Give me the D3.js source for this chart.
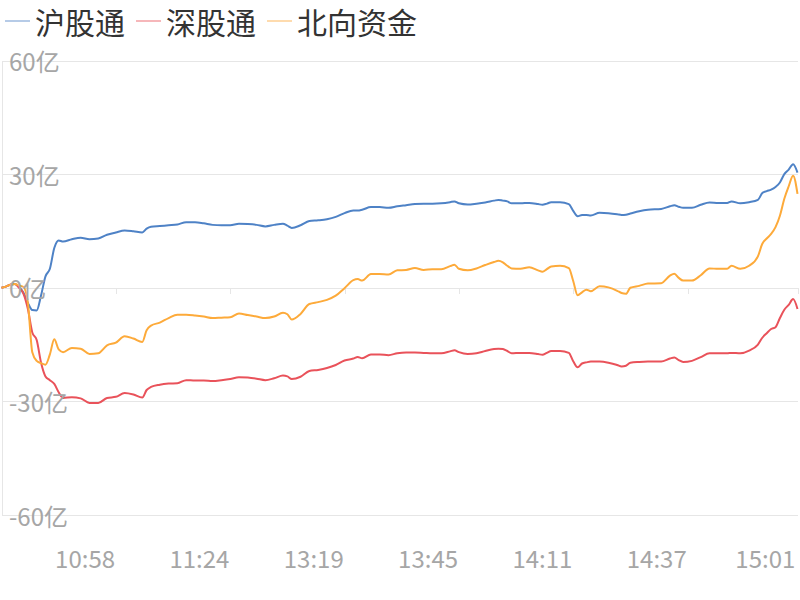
<!DOCTYPE html>
<html>
<head>
<meta charset="utf-8">
<script src="https://cdn.jsdelivr.net/npm/d3@7"></script>
<style>
  body { margin: 0; background: #fff; }
  svg { display: block; font-family: "Noto Sans CJK SC", "Noto Sans", sans-serif; }
</style>
</head>
<body>
<div id="chart"></div>
<script>
// minute index of each sample, 0 = start of the window
var minutes = [0,1,2,3,4,5,6,7,8,9,10,11,12,13,14,16,18,20,22,24,26,28,30,32,33,34,36,38,40,42,44,46,48,50,
  52,54,56,58,60,62,64,65,66,68,70,72,74,76,78,80,81,82,84,86,88,90,92,94,96,98,100,102,103,104,106,108,
  110,112,113,114,115,116,118,120,122,123,124,125,127,129,130,131,132,133,134,136,138,140,141,142,143,145,
  147,150,152,153,154,155,157,159,161,163,165,166,168,170,172,173,174,175,176,177,178,179,180,181];

var hu = [0,0.3,0.8,1.0,0.2,-1.3,-4.0,-5.9,-6.0,-2.0,3.0,5.0,10.5,12.5,12.2,12.8,13.2,12.8,13.0,14.0,14.6,15.1,14.9,14.6,15.6,16.1,16.3,16.5,16.7,17.3,17.3,17.0,16.6,16.5,
  16.5,16.9,16.8,16.6,16.2,16.6,16.9,16.4,15.8,16.5,17.6,17.8,18.1,18.7,19.7,20.4,20.4,20.6,21.3,21.3,21.1,21.5,21.8,22.1,22.2,22.2,22.3,22.6,22.8,22.3,22.0,22.2,
  22.5,23.0,23.2,23.0,22.8,22.3,22.3,22.4,22.1,21.9,22.2,22.6,22.6,22.1,20.3,18.9,19.2,19.2,19.1,19.8,19.7,19.4,19.2,19.3,19.6,20.2,
  20.6,20.8,21.5,21.8,21.4,21.1,21.1,21.9,22.5,22.4,22.4,22.8,22.3,22.6,23.2,25.0,25.5,25.9,26.6,27.8,30.0,31.2,32.6,30.4];

var shen = [0,0.3,0.8,1.0,0.0,-1.6,-5.6,-11.8,-13.8,-19.8,-23.4,-24.4,-25.4,-27.6,-29.1,-28.9,-29.2,-30.4,-30.4,-29.1,-28.8,-27.8,-28.2,-29.0,-27.0,-26.2,-25.6,-25.3,-25.2,-24.4,-24.5,-24.5,-24.6,-24.4,
  -24.1,-23.6,-23.7,-24.0,-24.4,-23.9,-23.2,-23.4,-24.1,-23.5,-22.0,-21.7,-21.2,-20.4,-19.2,-18.7,-18.3,-18.6,-17.6,-17.6,-17.8,-17.3,-17.1,-17.1,-17.2,-17.3,-17.3,-16.8,-16.5,-17.0,-17.5,-17.3,
  -16.7,-16.2,-16.1,-16.2,-16.7,-17.3,-17.2,-17.2,-17.5,-17.7,-17.2,-16.7,-16.7,-17.2,-19.4,-21.0,-20.0,-19.7,-19.5,-19.5,-19.8,-20.4,-20.8,-20.6,-19.8,-19.6,
  -19.5,-19.5,-18.7,-18.4,-19.1,-19.6,-19.3,-18.3,-17.3,-17.3,-17.3,-17.2,-17.3,-16.6,-15.0,-13.2,-12.0,-10.9,-10.4,-8.0,-5.8,-4.5,-3.0,-5.6];

var north = [0,0.3,0.8,1.0,0.6,0.2,-4.0,-17.0,-19.3,-19.9,-20.3,-17.6,-13.6,-16.3,-17.0,-15.9,-16.1,-17.5,-17.3,-15.2,-14.5,-12.8,-13.4,-14.3,-11.2,-10.0,-9.2,-8.0,-7.1,-7.1,-7.3,-7.6,-8.0,-7.9,
  -7.8,-6.8,-7.2,-7.6,-8.0,-7.6,-6.6,-7.0,-8.4,-6.9,-4.3,-3.8,-3.2,-2.1,-0.1,2.0,2.3,1.9,3.6,3.6,3.5,4.6,4.7,5.2,4.7,4.9,4.9,5.7,6.1,5.0,4.6,5.1,
  6.0,6.8,7.1,6.7,5.8,5.1,5.0,5.4,4.6,4.2,4.9,5.6,5.8,5.2,1.8,-2.0,-1.2,-0.5,-0.9,0.4,0.1,-0.8,-1.4,-1.6,0.0,0.5,
  1.1,1.2,3.2,3.7,2.6,1.9,1.9,3.3,5.1,5.0,5.0,5.8,5.0,5.8,8.3,11.6,13.0,14.2,16.0,19.0,23.5,26.8,29.6,24.8];

var lastMinute = 181;
var tickLabels = ["10:58", "11:24", "13:19", "13:45", "14:11", "14:37", "15:01"];
var tickMinutes = [19, 45, 71, 97, 123, 149, 173];
var markMinutes = [26, 52, 78, 104, 130, 156, 181];
var yTicks = [60, 30, 0, -30, -60];

var series = [
  { name: "沪股通", values: hu, color: "#4e82c6" },
  { name: "深股通", values: shen, color: "#e9525a" },
  { name: "北向资金", values: north, color: "#fdaa3a" }
];

var width = 800, height = 600;

var svg = d3.select("#chart").append("svg")
  .attr("width", width)
  .attr("height", height);

var x = d3.scaleLinear().domain([0, lastMinute]).range([1.5, 797.5]);
var y = d3.scaleLinear().domain([-60, 60]).range([515, 60.5]);

// grid
svg.append("g").selectAll("line")
  .data(yTicks)
  .join("line")
  .attr("x1", 2).attr("x2", 798)
  .attr("y1", function(d) { return Math.round(y(d)) + 0.5; })
  .attr("y2", function(d) { return Math.round(y(d)) + 0.5; })
  .attr("stroke", "#e6e6e6")
  .attr("stroke-width", 1);

svg.append("line")
  .attr("x1", 2.5).attr("x2", 2.5)
  .attr("y1", Math.round(y(60)) + 0.5).attr("y2", Math.round(y(-60)) + 0.5)
  .attr("stroke", "#e6e6e6");

// small marks on the zero line
svg.append("g").selectAll("line")
  .data(markMinutes)
  .join("line")
  .attr("x1", function(d) { return Math.round(x(d)) + 0.5; })
  .attr("x2", function(d) { return Math.round(x(d)) + 0.5; })
  .attr("y1", Math.round(y(0)))
  .attr("y2", Math.round(y(0)) + 6)
  .attr("stroke", "#e6e6e6");

// lines
var line = d3.line()
  .x(function(d) { return x(d[0]); })
  .y(function(d) { return y(d[1]); })
  .curve(d3.curveMonotoneX);

series.forEach(function(s) {
  svg.append("path")
    .datum(minutes.map(function(m, i) { return [m, s.values[i]]; }))
    .attr("fill", "none")
    .attr("stroke", s.color)
    .attr("stroke-width", 2)
    .attr("stroke-linejoin", "round")
    .attr("d", line);
});

// y labels sit on top of the grid
svg.append("g").selectAll("text")
  .data(yTicks)
  .join("text")
  .attr("x", 9)
  .attr("y", function(d) { return y(d); })
  .attr("dominant-baseline", "central")
  .attr("font-size", 24)
  .attr("fill", "#a6a6a6")
  .text(function(d) { return d + "亿"; });

// x labels
svg.append("g").selectAll("text")
  .data(tickLabels)
  .join("text")
  .attr("x", function(d, i) { return x(tickMinutes[i]) + (i == tickLabels.length - 1 ? 3 : 0); })
  .attr("y", 557)
  .attr("text-anchor", "middle")
  .attr("dominant-baseline", "central")
  .attr("font-size", 24)
  .attr("fill", "#a6a6a6")
  .text(function(d) { return d; });

// legend
var lx = 5;
series.forEach(function(s) {
  var g = svg.append("g").attr("transform", "translate(" + lx + ",21)");
  g.append("line")
    .attr("x1", 0).attr("x2", 25)
    .attr("stroke", s.color)
    .attr("stroke-opacity", 0.55)
    .attr("stroke-width", 1.5);
  var t = g.append("text")
    .attr("x", 30)
    .attr("dominant-baseline", "central")
    .attr("font-size", 30)
    .attr("fill", "#333")
    .text(s.name);
  lx += 30 + t.node().getComputedTextLength() + 11;
});
</script>
</body>
</html>
